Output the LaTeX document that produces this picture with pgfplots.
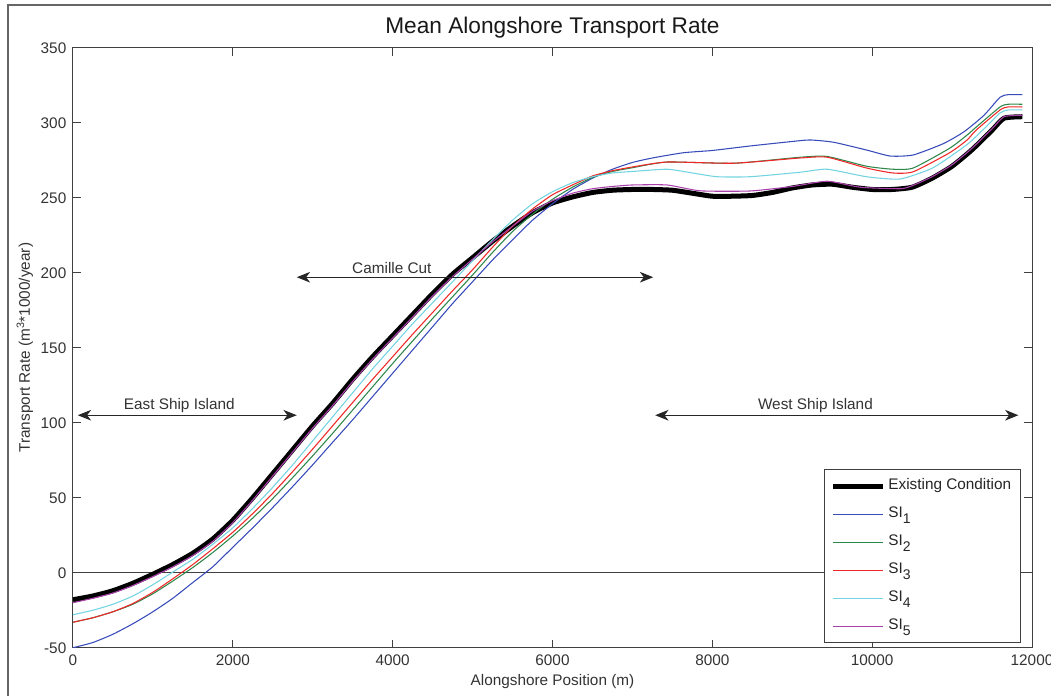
\documentclass[border=0pt]{standalone}
\usepackage{pgfplots}
\pgfplotsset{compat=1.18}
\usepackage{fontspec}
\setmainfont{Liberation Sans}
\usetikzlibrary{arrows.meta}
\definecolor{cSIa}{RGB}{55,75,185}
\definecolor{cSIb}{RGB}{45,135,75}
\definecolor{cSIc}{RGB}{240,40,40}
\definecolor{cSId}{RGB}{115,212,225}
\definecolor{cSIe}{RGB}{170,65,170}
\newcommand{\sub}[1]{\raisebox{-0.35em}{\fontsize{10.5}{12}\selectfont #1}}
\begin{document}
\begin{tikzpicture}[x=0.75pt,y=0.75pt]
\useasboundingbox (0,0) rectangle (1051,696);
\draw[black!60, line width=0.9pt] (8,0) -- (8,691) -- (1051,691);
\begin{axis}[
  anchor=south west, at={(54.75pt,36.2pt)},
  scale only axis, width=719.25pt, height=450pt,
  xmin=0, xmax=12000, ymin=-50, ymax=350,
  xtick={0,2000,...,12000}, ytick={-50,0,...,350},
  tick align=inside, major tick length=6pt,
  scaled x ticks=false,
  /pgf/number format/1000 sep={},
  /pgf/number format/assume math mode=true,
  tick label style={font=\fontsize{11.5}{13}\selectfont, text=black!80},
  xticklabel style={anchor=base, yshift=-13.5pt},
  yticklabel style={xshift=-1.5pt},
  axis line style={black!75, line width=0.75pt},
  every tick/.style={black!75, line width=0.75pt},
  every axis title shift=0pt,
  title={Mean Alongshore Transport Rate},
  title style={font=\fontsize{17}{20}\selectfont, at={(axis description cs:0.5,1.0229)}, anchor=base, text=black!90},
  xlabel={Alongshore Position (m)},
  xlabel style={font=\fontsize{11.5}{13}\selectfont, at={(axis description cs:0.5,-0.0622)}, anchor=base, text=black!80},
  ylabel={Transport Rate (m\textsuperscript{3}*1000/year)},
  ylabel style={font=\fontsize{11.5}{13}\selectfont, at={(axis description cs:-0.0449,0.5)}, anchor=base, text=black!80},
  legend style={at={(0.9885,0.0078)}, anchor=south east, draw=black!75, line width=0.75pt,
    font=\fontsize{11.5}{13}\selectfont, text=black!85, row sep=4.5pt,
    nodes={text height=9pt, text depth=3.5pt, inner sep=2pt},
    inner xsep=5pt, inner ysep=4pt},
  legend cell align=left,
  legend image code/.code={\draw[#1] (0pt,0pt) -- (37.5pt,0pt);},
  every axis plot post/.append style={smooth, tension=0.35},
]
\addplot[black!75, line width=0.75pt, forget plot, sharp plot] coordinates {(0,0) (12000,0)};

\addplot[black, line width=3.75pt] coordinates {
(0,-18)(250,-15.5)(500,-12)(750,-7)(1000,-1)(1250,5.5)(1500,13)(1750,22.5)(2000,35)(2250,50)(2500,66)(2750,82)(3000,98)(3250,113)(3500,129)(3750,144)(4000,158)(4250,172)(4500,186)(4750,199)(5000,210)(5250,221)(5500,231)(5750,240)(6000,246.5)(6250,250.5)(6500,253.5)(6750,255)(7000,255.5)(7250,255.5)(7500,255)(7750,253)(8000,251)(8250,251)(8500,251.5)(8750,253.5)(9000,256.5)(9250,258.5)(9500,259)(9750,257)(10000,255.5)(10250,255.5)(10500,257)(10750,263)(11000,271)(11250,282)(11500,295)(11650,303)(11880,304)};
\addlegendentry{Existing Condition}

\addplot[cSIa, line width=0.8pt] coordinates {
(0,-50)(250,-46.5)(500,-41)(750,-34)(1000,-26)(1250,-17)(1500,-6.5)(1750,4)(2000,17)(2250,30)(2500,43.5)(2750,57.5)(3000,72)(3250,87)(3500,102)(3750,117.5)(4000,133)(4250,148.5)(4500,164)(4750,179.5)(5000,194)(5250,208.5)(5500,222)(5750,235)(6000,246)(6250,255.5)(6500,263)(6750,269)(7000,273.5)(7250,276.5)(7640,280)(8000,281.5)(8473,284.5)(9000,287.5)(9224,288.5)(9515,287)(9930,281.8)(10225,277.8)(10513,278.5)(10888,286)(11150,294)(11400,305)(11600,317)(11700,318.7)(11880,318.7)};
\addlegendentry{SI\sub{1}}

\addplot[cSIb, line width=0.8pt] coordinates {
(0,-33)(250,-30)(500,-26)(750,-21)(1000,-14)(1250,-5.5)(1500,3.5)(1750,13.5)(2000,24.5)(2250,36.5)(2500,49.5)(2750,63.5)(3000,78)(3250,93)(3500,108.5)(3750,124)(4000,139.5)(4250,154.5)(4500,169.5)(4750,184)(5000,198.5)(5250,213.5)(5500,227.5)(5750,239)(6000,249)(6250,257)(6500,263.5)(6750,267.5)(7000,270)(7434,273.8)(8270,273)(9100,277)(9437,277.5)(9930,271)(10260,269)(10513,269.8)(10970,283)(11188,291.8)(11300,297)(11600,310.5)(11700,312.3)(11880,312.3)};
\addlegendentry{SI\sub{2}}

\addplot[cSIc, line width=0.8pt] coordinates {
(0,-33)(250,-30)(500,-26)(750,-20.5)(1000,-13)(1250,-4)(1500,5.5)(1750,16)(2000,27)(2250,39.5)(2500,53)(2750,67.5)(3000,82.5)(3250,98)(3500,113.5)(3750,129)(4000,144)(4250,159)(4500,173.5)(4750,188)(5000,202)(5250,217)(5500,231)(5750,242.5)(6000,252)(6250,258.5)(6500,264.5)(6750,268)(7000,270.5)(7434,273.8)(8270,273)(9100,276.5)(9437,277)(9930,269.8)(10260,266.5)(10513,267.3)(10970,280)(11188,288.5)(11300,295)(11600,308.5)(11700,310.5)(11880,310.5)};
\addlegendentry{SI\sub{3}}

\addplot[cSId, line width=0.8pt] coordinates {
(0,-28)(250,-25)(500,-21)(750,-15.5)(1000,-8)(1250,0.5)(1500,9)(1750,19)(2000,30)(2250,43)(2500,57)(2750,72)(3000,88)(3250,104)(3500,120)(3750,136)(4000,151)(4250,166)(4500,180)(4750,194)(5000,208)(5250,222)(5500,235)(5750,246)(6000,254)(6250,260)(6500,264)(6750,266.5)(7000,267.5)(7434,269)(7750,266.5)(8060,264)(8473,264)(9100,267)(9437,269)(9930,264)(10350,262.5)(10763,270)(11188,285.5)(11400,296)(11600,306.5)(11700,308.5)(11880,308.5)};
\addlegendentry{SI\sub{4}}

\addplot[cSIe, line width=0.8pt] coordinates {
(0,-20)(250,-17)(500,-13.5)(750,-8.5)(1000,-2.5)(1250,4)(1500,11.5)(1750,21)(2000,33.5)(2250,48.5)(2500,64.5)(2750,80.5)(3000,96.5)(3250,111.5)(3500,127.5)(3750,142.5)(4000,156.5)(4250,170.5)(4500,184.5)(4750,197.5)(5000,209)(5250,220.5)(5500,231)(5750,241)(6000,248)(6250,253)(6500,256)(6750,257.5)(7000,258.5)(7434,258.5)(7850,254.6)(8473,254.5)(9000,257.5)(9437,261)(9850,257)(10350,256)(10500,258)(10750,264)(11000,272)(11250,283)(11500,296)(11650,304)(11880,305)};
\addlegendentry{SI\sub{5}}

\draw[black!85, line width=0.75pt, {Stealth[length=10pt,width=8pt,inset=3pt]}-{Stealth[length=10pt,width=8pt,inset=3pt]}] (axis cs:60,105) -- (axis cs:2800,105);
\draw[black!85, line width=0.75pt, {Stealth[length=10pt,width=8pt,inset=3pt]}-{Stealth[length=10pt,width=8pt,inset=3pt]}] (axis cs:2800,197) -- (axis cs:7260,197);
\draw[black!85, line width=0.75pt, {Stealth[length=10pt,width=8pt,inset=3pt]}-{Stealth[length=10pt,width=8pt,inset=3pt]}] (axis cs:7285,105) -- (axis cs:11830,105);
\node[font=\fontsize{11.5}{13}\selectfont, text=black!80, anchor=base, inner sep=0pt] at (axis cs:1330,109) {East Ship Island};
\node[font=\fontsize{11.5}{13}\selectfont, text=black!80, anchor=base, inner sep=0pt] at (axis cs:3990,199.5) {Camille Cut};
\node[font=\fontsize{11.5}{13}\selectfont, text=black!80, anchor=base, inner sep=0pt] at (axis cs:9290,109) {West Ship Island};
\end{axis}
\end{tikzpicture}
\end{document}
